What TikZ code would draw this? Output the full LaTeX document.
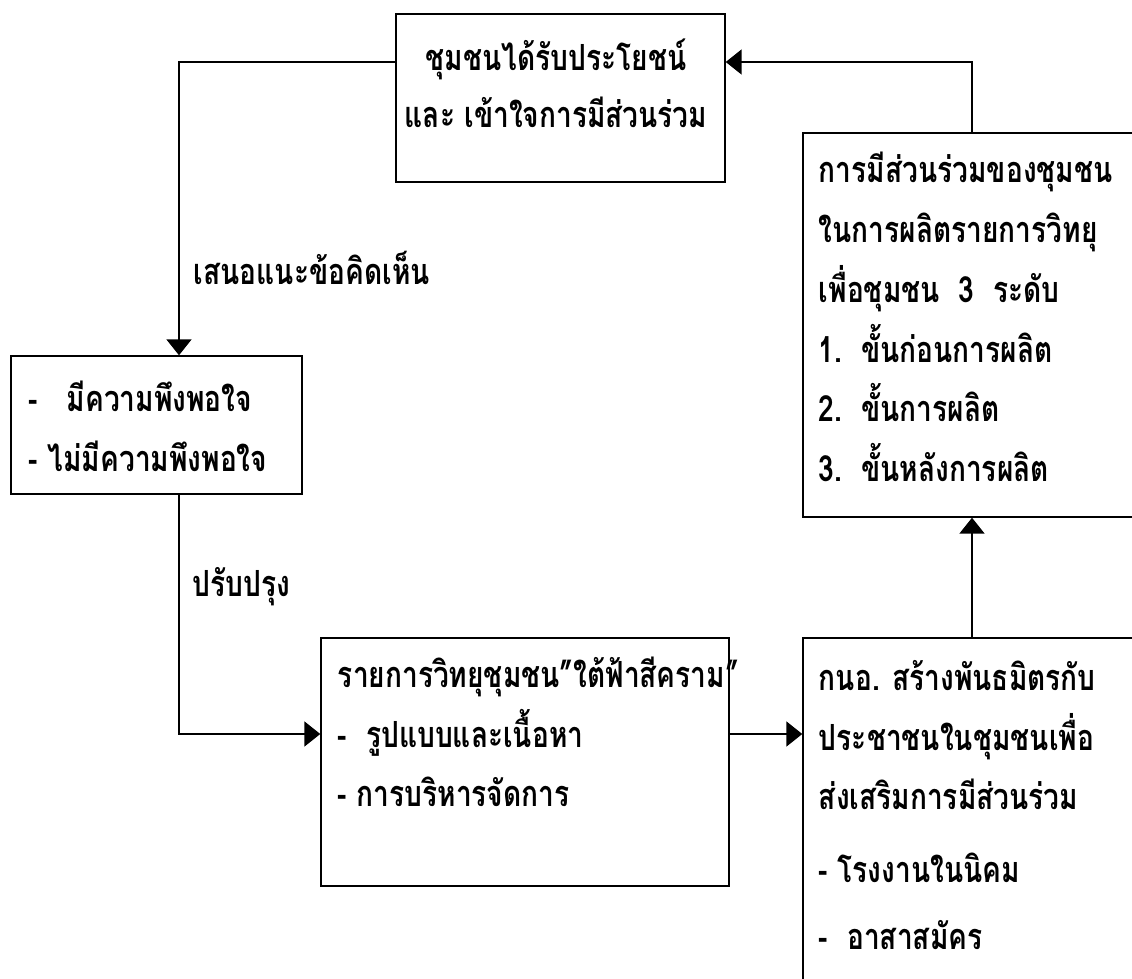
\documentclass[tikz,border=0pt]{standalone}
\usepackage{fontspec}
\usepackage{tikz}
\usetikzlibrary{arrows.meta}
\newfontfamily\thaifont[Script=Thai,FakeStretch=0.78]{Loma}

\begin{document}
\begin{tikzpicture}[
    ->,>={Triangle[length=0.32cm,width=0.5cm]},
    line width=1.1pt,
    box/.style = {rectangle, draw, line width=0.8pt, inner sep=0pt},
    txt/.style = {font=\thaifont\bfseries\fontsize{20.5}{34}\selectfont, align=left, inner sep=0pt},
    lbl/.style = {txt, anchor=west}
]
\clip (0,0) rectangle (22.64,19.56);

% Boxes
\node[box, minimum width=6.58cm, minimum height=3.36cm] at (11.21, 17.60) (top) {};
\node[box, minimum width=5.82cm, minimum height=2.76cm] at (3.13, 11.06) (sat) {};
\node[box, minimum width=8.16cm, minimum height=4.96cm] at (10.50, 4.32) (mid) {};
\node[box, minimum width=6.76cm, minimum height=7.68cm] at (19.44, 13.06) (partic) {};
\node[box, minimum width=6.76cm, minimum height=7.44cm] at (19.44, 3.08) (gnor) {};

% Texts
\node[txt, align=center] at (11.12, 17.90) (toptxt) {ชุมชนได้รับประโยชน์\\[-0.06cm]และ เข้าใจการมีส่วนร่วม};
\node[txt, anchor=west] at (0.56, 11.04) (sattxt) {-\ \ \ มีความพึงพอใจ\\- ไม่มีความพึงพอใจ};
\node[txt, anchor=west] at (6.74, 4.92) (midtxt) {รายการวิทยุชุมชน”ใต้ฟ้าสีคราม”\\-\ \ รูปแบบและเนื้อหา\\- การบริหารจัดการ};
\node[txt, anchor=west] at (16.36, 13.22) (partxt) {การมีส่วนร่วมของชุมชน\\ในการผลิตรายการวิทยุ\\เพื่อชุมชน\ \ 3\ \ ระดับ\\1.\ \ ขั้นก่อนการผลิต\\2.\ \ ขั้นการผลิต\\3.\ \ ขั้นหลังการผลิต};
\node[txt, anchor=west] at (16.36, 3.46) (gnortxt) {กนอ. สร้างพันธมิตรกับ\\ประชาชนในชุมชนเพื่อ\\ส่งเสริมการมีส่วนร่วม\\[0.25cm]- โรงงานในนิคม\\[0.15cm]-\ \ อาสาสมัคร};

% Labels
\node[lbl] at (3.86, 14.20) (l1) {เสนอแนะข้อคิดเห็น};
\node[lbl] at (3.84, 7.82) (l2) {ปรับปรุง};

% Edges
\coordinate (m) at ([yshift=0.56cm]mid.east);
\draw[] (gnor) -- (partic);
\draw[] (partic.north) |- ([yshift=0.72cm]top.east);
\draw[] ([yshift=0.72cm]top.west) -| ([xshift=0.45cm]sat.north);
\draw[] ([xshift=0.45cm]sat.south) |- ([yshift=0.56cm]mid.west);
\draw[] (m) -- (m -| gnor.west);

\end{tikzpicture}
\end{document}
